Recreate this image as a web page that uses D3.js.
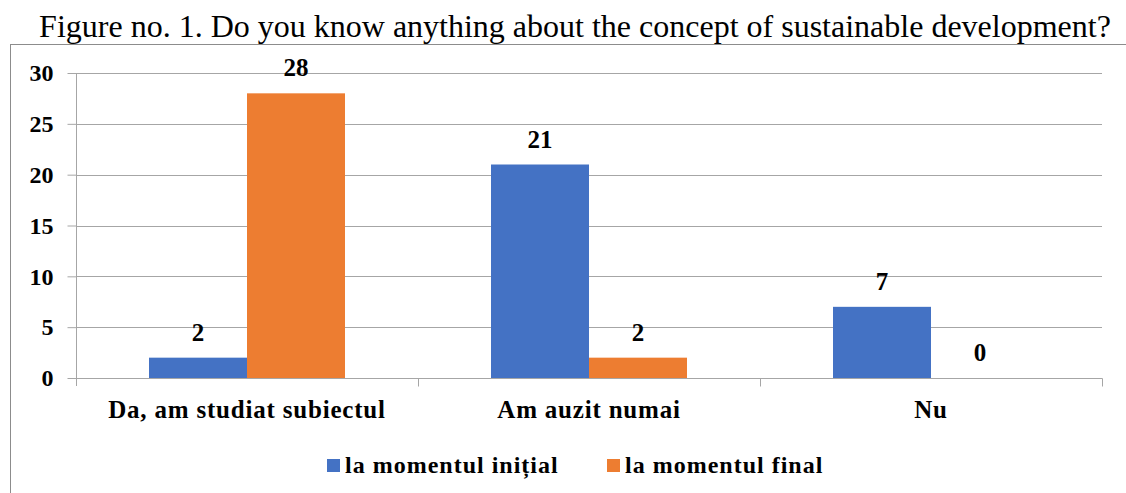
<!DOCTYPE html>
<html>
<head>
<meta charset="utf-8">
<script src="https://cdn.jsdelivr.net/npm/d3@7"></script>
</head>
<body style="margin:0; background:#fff">
<svg id="chart" width="1126" height="493"></svg>
<script>
const title = "Figure no. 1. Do you know anything about the concept of sustainable development?";
const categories = ["Da, am studiat subiectul", "Am auzit numai", "Nu"];
const seriesNames = ["la momentul inițial", "la momentul final"];
const initialValues = [2, 21, 7];
const finalValues = [28, 2, 0];
const yTicks = [0, 5, 10, 15, 20, 25, 30];
const colors = ["#4472C4", "#ED7D31"];

const FONT = "Liberation Serif";
const svg = d3.select("#chart");

// helper so every label gets the serif face
function serif(sel, size, bold) {
    return sel.attr("font-family", FONT)
        .style("font-family", FONT)
        .attr("font-size", size)
        .attr("font-weight", bold ? "bold" : "normal")
        .attr("fill", "#000");
}

// outer frame (right and bottom edges fall off the picture)
svg.append("rect")
    .attr("x", 10.5).attr("y", 44.5)
    .attr("width", 1130).attr("height", 470)
    .attr("fill", "none")
    .attr("stroke", "#8c8c8c");

serif(svg.append("text"), 32, false)
    .attr("x", 575).attr("y", 37)
    .attr("text-anchor", "middle")
    .text(title);

const margin = { left: 76, right: 1102, top: 73, bottom: 378 };

const x0 = d3.scaleBand()
    .domain(categories)
    .range([margin.left, margin.right])
    .padding(0);

const x1 = d3.scaleBand()
    .domain(seriesNames)
    .range([0, x0.bandwidth()])
    .paddingInner(0)
    .paddingOuter(0.745);

const y = d3.scaleLinear()
    .domain([0, 30])
    .range([margin.bottom, margin.top]);

// gridlines
svg.append("g")
    .selectAll("line")
    .data(yTicks.filter(d => d > 0))
    .join("line")
    .attr("x1", margin.left).attr("x2", margin.right)
    .attr("y1", d => Math.round(y(d)) + 0.5)
    .attr("y2", d => Math.round(y(d)) + 0.5)
    .attr("stroke", "#a6a6a6");

// y axis
const yAxis = svg.append("g")
    .attr("transform", `translate(${margin.left + 0.5},0)`)
    .call(d3.axisLeft(y).tickValues(yTicks).tickSize(9).tickPadding(14));
yAxis.attr("font-family", FONT);
yAxis.select(".domain").remove();
yAxis.selectAll(".tick line").attr("stroke", "#a6a6a6");
serif(yAxis.selectAll(".tick text"), 24, true);
yAxis.append("line")
    .attr("y1", margin.top).attr("y2", margin.bottom + 8)
    .attr("stroke", "#a6a6a6");

// bars
const data = categories.map((c, i) => ({ cat: c, vals: [initialValues[i], finalValues[i]] }));
const groups = svg.append("g")
    .selectAll("g")
    .data(data)
    .join("g")
    .attr("transform", d => `translate(${x0(d.cat)},0)`);

groups.selectAll("rect")
    .data(d => d.vals.map((v, k) => ({ s: seriesNames[k], v, k })))
    .join("rect")
    .attr("x", d => x1(d.s))
    .attr("y", d => y(d.v))
    .attr("width", x1.bandwidth())
    .attr("height", d => y(0) - y(d.v))
    .attr("fill", d => colors[d.k]);

serif(groups.selectAll("text")
    .data(d => d.vals.map((v, k) => ({ s: seriesNames[k], v, k })))
    .join("text"), 25, true)
    .attr("x", d => x1(d.s) + x1.bandwidth() / 2)
    .attr("y", d => y(d.v) - 17)
    .attr("text-anchor", "middle")
    .text(d => d.v);

// x axis
const xAxis = svg.append("g")
    .attr("transform", `translate(0,${margin.bottom + 0.5})`);
xAxis.append("line")
    .attr("x1", margin.left).attr("x2", margin.right + 0.5)
    .attr("stroke", "#a6a6a6");
xAxis.selectAll(".sep")
    .data(categories)
    .join("line")
    .attr("class", "sep")
    .attr("x1", d => Math.round(x0(d) + x0.bandwidth()) + 0.5)
    .attr("x2", d => Math.round(x0(d) + x0.bandwidth()) + 0.5)
    .attr("y1", 0).attr("y2", 8)
    .attr("stroke", "#a6a6a6");
serif(xAxis.selectAll(".lab")
    .data(categories)
    .join("text")
    .attr("class", "lab"), 25, true)
    .attr("x", d => x0(d) + x0.bandwidth() / 2)
    .attr("y", 39.5)
    .attr("text-anchor", "middle")
    .attr("letter-spacing", 0.8)
    .text(d => d);

// legend
const legendX = [327, 607];
const legend = svg.append("g")
    .selectAll("g")
    .data(seriesNames)
    .join("g")
    .attr("transform", (d, i) => `translate(${legendX[i]},0)`);
legend.append("rect")
    .attr("x", 0).attr("y", 459)
    .attr("width", 13).attr("height", 13)
    .attr("fill", (d, i) => colors[i]);
serif(legend.append("text"), 24, true)
    .attr("x", 18).attr("y", 473)
    .attr("letter-spacing", 1)
    .text(d => d);
</script>
</body>
</html>
